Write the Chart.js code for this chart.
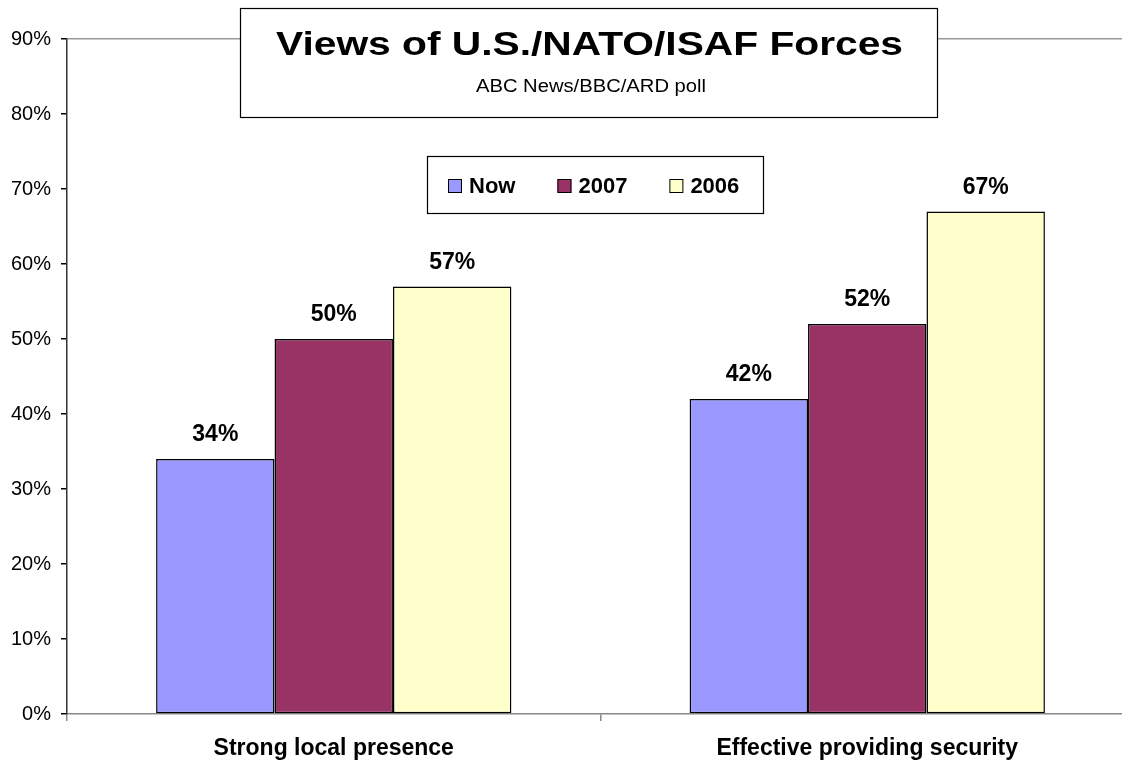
<!DOCTYPE html>
<html>
<head>
<meta charset="utf-8">
<script src="https://cdn.jsdelivr.net/npm/chart.js@4/dist/chart.umd.min.js"></script>
<style>
html,body{margin:0;padding:0;background:#fff;overflow:hidden;width:1122px;height:761px;}
#wrap{width:1134px;height:761px;}
</style>
</head>
<body>
<div id="wrap"><canvas id="c" width="1134" height="761"></canvas></div>
<script>
const categories = ["Strong local presence", "Effective providing security"];
const seriesNames = ["Now", "2007", "2006"];
const nowValues = [34, 42];
const y2007Values = [50, 52];
const y2006Values = [57, 67];
const seriesColors = ["#9999FF", "#993366", "#FFFFCC"];
const titleText = "Views of U.S./NATO/ISAF Forces";
const subtitleText = "ABC News/BBC/ARD poll";

const FONT = '"Liberation Sans", Arial, Helvetica, sans-serif';

function stretchedText(ctx, text, cx, cy, font, targetWidth) {
  ctx.save();
  ctx.font = font;
  const w = ctx.measureText(text).width;
  const sx = targetWidth / w;
  ctx.translate(cx, cy);
  ctx.scale(sx, 1);
  ctx.textAlign = 'center';
  ctx.textBaseline = 'middle';
  ctx.fillText(text, 0, 0);
  ctx.restore();
}

const overlayPlugin = {
  id: 'overlay',
  afterDatasetsDraw(chart) {
    const ctx = chart.ctx;
    ctx.save();
    ctx.font = 'bold 23px ' + FONT;
    ctx.fillStyle = '#000';
    ctx.textAlign = 'center';
    ctx.textBaseline = 'middle';
    chart.data.datasets.forEach((ds, i) => {
      chart.getDatasetMeta(i).data.forEach((bar, j) => {
        ctx.fillText(ds.data[j] + '%', bar.x, bar.y - 24);
      });
    });
    ctx.restore();
  },
  afterDraw(chart) {
    const ctx = chart.ctx;
    ctx.save();
    // title box
    ctx.fillStyle = '#fff';
    ctx.fillRect(240.5, 8.5, 697, 109);
    ctx.strokeStyle = '#000';
    ctx.lineWidth = 1.2;
    ctx.strokeRect(240.5, 8.5, 697, 109);
    ctx.fillStyle = '#000';
    stretchedText(ctx, titleText, 589.5, 46, 'bold 34px ' + FONT, 627);
    stretchedText(ctx, subtitleText, 591, 87, '18px ' + FONT, 230);
    // legend box
    ctx.fillStyle = '#fff';
    ctx.fillRect(427.5, 156.5, 336, 57);
    ctx.strokeStyle = '#000';
    ctx.lineWidth = 1.2;
    ctx.strokeRect(427.5, 156.5, 336, 57);
    ctx.font = 'bold 22px ' + FONT;
    ctx.textAlign = 'left';
    ctx.textBaseline = 'middle';
    let x = 448;
    const cy = 186;
    chart.data.datasets.forEach((ds) => {
      ctx.fillStyle = ds.backgroundColor;
      ctx.fillRect(x, cy - 7, 14, 14);
      ctx.strokeStyle = '#000';
      ctx.lineWidth = 1;
      ctx.strokeRect(x + 0.5, cy - 6.5, 13, 13);
      ctx.fillStyle = '#000';
      ctx.fillText(ds.label, x + 21, cy + 1);
      x += 21 + ctx.measureText(ds.label).width + 42;
    });
    ctx.restore();
  }
};

const datasets = [nowValues, y2007Values, y2006Values].map((vals, i) => ({
  label: seriesNames[i],
  data: vals,
  backgroundColor: seriesColors[i],
  borderColor: '#000',
  borderWidth: 1.5,
  borderSkipped: false,
  categoryPercentage: 0.666,
  barPercentage: 1.0
}));

new Chart(document.getElementById('c'), {
  type: 'bar',
  data: { labels: categories, datasets: datasets },
  options: {
    responsive: false,
    animation: false,
    layout: { padding: { top: 39, right: 0, left: 0, bottom: 0 } },
    plugins: {
      legend: { display: false },
      title: { display: false },
      tooltip: { enabled: false }
    },
    scales: {
      x: {
        offset: true,
        grid: {
          offset: true,
          drawOnChartArea: false,
          drawTicks: true,
          tickLength: 7,
          tickColor: '#888',
          lineWidth: 1.5
        },
        border: { color: '#888', width: 1.5 },
        ticks: {
          color: '#000',
          font: { family: FONT, size: 23, weight: 'bold' },
          padding: 14,
          maxRotation: 0
        },
        afterFit(scale) { scale.height = 47; }
      },
      y: {
        min: 0,
        max: 90,
        ticks: {
          stepSize: 10,
          color: '#000',
          font: { family: FONT, size: 20 },
          padding: 10,
          callback: v => v + '%'
        },
        grid: {
          color: c => (c.tick && c.tick.value === 90) ? '#999' : 'rgba(0,0,0,0)',
          lineWidth: 1.5,
          drawTicks: true,
          tickLength: 6,
          tickColor: '#000'
        },
        border: { color: '#333', width: 1.5 },
        afterFit(scale) { scale.width = 67; }
      }
    }
  },
  plugins: [overlayPlugin]
});
</script>
</body>
</html>
